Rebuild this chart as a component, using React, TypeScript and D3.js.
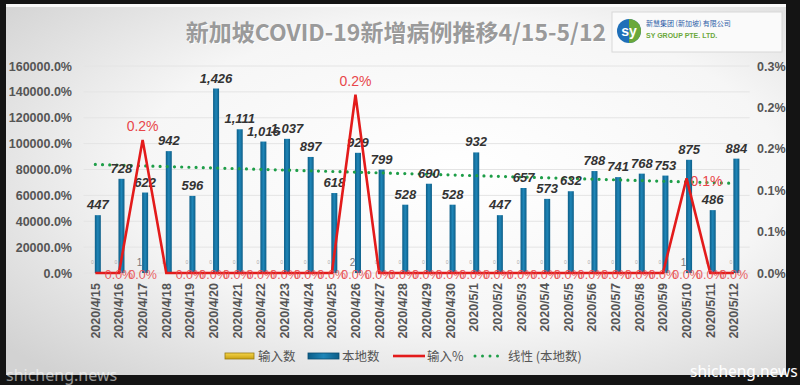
import React from 'react';
import * as d3 from 'd3';

const dates = [
  '2020/4/15', '2020/4/16', '2020/4/17', '2020/4/18', '2020/4/19', '2020/4/20', '2020/4/21',
  '2020/4/22', '2020/4/23', '2020/4/24', '2020/4/25', '2020/4/26', '2020/4/27', '2020/4/28',
  '2020/4/29', '2020/4/30', '2020/5/1', '2020/5/2', '2020/5/3', '2020/5/4', '2020/5/5',
  '2020/5/6', '2020/5/7', '2020/5/8', '2020/5/9', '2020/5/10', '2020/5/11', '2020/5/12',
];

// 本地数
const localCases = [
  447, 728, 622, 942, 596, 1426, 1111, 1016, 1037, 897, 618, 929, 799, 528,
  690, 528, 932, 447, 657, 573, 632, 788, 741, 768, 753, 875, 486, 884,
];

// 输入数
const importedCases = [
  0, 0, 1, 0, 0, 0, 0, 0, 0, 0, 0, 2, 0, 0,
  0, 0, 0, 0, 0, 0, 0, 0, 0, 0, 0, 1, 0, 0,
];

const leftTicks = [0, 200, 400, 600, 800, 1000, 1200, 1400, 1600];
const rightTicks = [0, 0.0005, 0.001, 0.0015, 0.002, 0.0025];

const legendItems = ['输入数', '本地数', '输入%', '线性 (本地数)'];

const W = 800;
const H = 385;
const plot = { left: 83.5, right: 745.7, top: 66, bottom: 273 };
const numFont = '"Liberation Sans", Arial, sans-serif';
const cjkFont = '"Noto Sans CJK SC", "Noto Sans", sans-serif';

export default function App() {
  const x = d3.scaleBand<string>().domain(dates).range([plot.left, plot.right]).padding(0);
  const cx = (d: string) => (x(d) as number) + x.bandwidth() / 2;
  const yL = d3.scaleLinear().domain([0, 1600]).range([plot.bottom, plot.top]);
  const yR = d3.scaleLinear().domain([0, 0.0025]).range([plot.bottom, plot.top]);

  const pct = dates.map((_, i) => importedCases[i] / localCases[i]);

  // linear trend of local cases (like Excel's linear trendline)
  const idx = localCases.map((_, i) => i);
  const mx = d3.mean(idx) as number;
  const my = d3.mean(localCases) as number;
  const slope =
    d3.sum(idx, (i) => (i - mx) * (localCases[i] - my)) / d3.sum(idx, (i) => (i - mx) ** 2);
  const trend = idx.map((i) => my + slope * (i - mx));

  const lineGen = d3
    .line<number>()
    .x((_, i) => cx(dates[i]))
    .y((v) => yR(v));
  const trendGen = d3
    .line<number>()
    .x((_, i) => cx(dates[i]))
    .y((v) => yL(v));

  const fmtCount = d3.format(',');
  const fmtLeft = (v: number) => (v * 100).toFixed(1) + '%';
  const fmtPct = (v: number) => (v * 100).toFixed(1) + '%';
  const fmtRight = (v: number) => (Math.round(v * 1000 + 1e-9) / 10).toFixed(1) + '%';

  const barW = 6;
  const rightLabel = new Set(['2020/5/10']);
  const noZeroLabel = new Set(['2020/4/15', '2020/4/18']);

  return (
    <div style={{ position: 'fixed', left: 0, top: 0, width: W, height: H }}>
      <svg width={W} height={H} style={{ display: 'block' }}>
        <defs>
          <radialGradient id="bg" cx="58%" cy="45%" r="75%">
            <stop offset="0%" stopColor="#ffffff" />
            <stop offset="55%" stopColor="#f6f6f6" />
            <stop offset="100%" stopColor="#d2d2d2" />
          </radialGradient>
          <linearGradient id="blueBar" x1="0" x2="1">
            <stop offset="0%" stopColor="#0d5e88" />
            <stop offset="50%" stopColor="#1f86b8" />
            <stop offset="100%" stopColor="#0d5e88" />
          </linearGradient>
          <linearGradient id="yellowBar" x1="0" y1="0" x2="0" y2="1">
            <stop offset="0%" stopColor="#f6d54a" />
            <stop offset="100%" stopColor="#c9a010" />
          </linearGradient>
        </defs>

        {/* frame */}
        <rect x={0} y={0} width={W} height={H} fill="#141414" />
        <rect x={6} y={4} width={780} height={371} fill="url(#bg)" />
        <rect x={6} y={4} width={780} height={3} fill="#ffffff" opacity={0.8} />

        {/* title */}
        <text
          x={397}
          y={42}
          textAnchor="middle"
          fontFamily={cjkFont}
          fontWeight={700}
          fontSize={23}
          fill="#ffffff"
          opacity={0.9}
        >
          新加坡COVID-19新增病例推移4/15-5/12
        </text>
        <text
          x={396}
          y={41}
          textAnchor="middle"
          fontFamily={cjkFont}
          fontWeight={700}
          fontSize={23}
          fill="#9a9a9a"
        >
          新加坡COVID-19新增病例推移4/15-5/12
        </text>

        {/* logo */}
        <g>
          <rect x={612} y={12} width={170} height={40} fill="#fafafa" stroke="#d8d8d8" />
          <circle cx={629} cy={31} r={12} fill="#1f6fb8" />
          <path d="M629,19 A12,12 0 0,1 629,43 Z" fill="#6aa83a" />
          <text x={629} y={36} textAnchor="middle" fontFamily={numFont} fontWeight={700} fontSize={14} fill="#fff">
            sy
          </text>
          <text x={646} y={26} fontFamily={cjkFont} fontSize={7} fill="#2f5fa8">
            新慧集团 (新加坡) 有限公司
          </text>
          <text x={646} y={38} fontFamily={numFont} fontWeight={700} fontSize={7} fill="#6aa83a">
            SY GROUP PTE. LTD.
          </text>
        </g>

        {/* gridlines */}
        {leftTicks.map((t) => (
          <line
            key={'g' + t}
            x1={plot.left}
            x2={plot.right + 4}
            y1={yL(t)}
            y2={yL(t)}
            stroke="#e4e4e4"
            strokeWidth={1}
          />
        ))}

        {/* left axis */}
        {leftTicks.map((t) => (
          <text
            key={'l' + t}
            x={72}
            y={yL(t) + 4.5}
            textAnchor="end"
            fontFamily={numFont}
            fontWeight={700}
            fontSize={12.5}
            fill="#555"
          >
            {fmtLeft(t)}
          </text>
        ))}

        {/* right axis */}
        {rightTicks.map((t) => (
          <text
            key={'r' + t}
            x={757}
            y={yR(t) + 4.5}
            fontFamily={numFont}
            fontWeight={700}
            fontSize={12.5}
            fill="#555"
          >
            {fmtRight(t)}
          </text>
        ))}

        {/* bars */}
        {dates.map((d, i) => (
          <g key={'b' + d}>
            <rect
              x={cx(d) - 3 - barW / 2}
              y={yL(importedCases[i])}
              width={barW}
              height={yL(0) - yL(importedCases[i])}
              fill="url(#yellowBar)"
            />
            <rect
              x={cx(d) + 2.5 - barW / 2}
              y={yL(localCases[i])}
              width={barW}
              height={yL(0) - yL(localCases[i])}
              fill="url(#blueBar)"
            />
          </g>
        ))}

        {/* imported count labels */}
        {dates.map((d, i) =>
          importedCases[i] > 0 ? (
            <text
              key={'ic' + d}
              x={cx(d) - 3}
              y={yL(importedCases[i]) - 7}
              textAnchor="middle"
              fontFamily={numFont}
              fontSize={10}
              fill="#777"
            >
              {importedCases[i]}
            </text>
          ) : (
            <text
              key={'ic' + d}
              x={cx(d) - 3}
              y={yL(importedCases[i]) - 9}
              textAnchor="middle"
              fontFamily={numFont}
              fontSize={5}
              fill="#aaa"
            >
              {importedCases[i]}
            </text>
          )
        )}

        {/* trend line */}
        <path
          d={trendGen(trend) || ''}
          fill="none"
          stroke="#1e9e48"
          strokeWidth={3.2}
          strokeLinecap="round"
          strokeDasharray="0 7.2"
        />

        {/* local count labels */}
        {dates.map((d, i) => (
          <text
            key={'lc' + d}
            x={cx(d) + 2.5}
            y={yL(localCases[i]) - 6}
            textAnchor="middle"
            fontFamily={numFont}
            fontWeight={700}
            fontStyle="italic"
            fontSize={13}
            fill="#333"
          >
            {fmtCount(localCases[i])}
          </text>
        ))}

        {/* input % line */}
        <path
          d={lineGen(pct) || ''}
          fill="none"
          stroke="#e31b1b"
          strokeWidth={2.6}
          strokeLinejoin="miter"
        />

        {/* input % labels */}
        {dates.map((d) =>
          noZeroLabel.has(d) ? null : (
            <text
              key={'z' + d}
              x={cx(d)}
              y={plot.bottom + 6}
              textAnchor="middle"
              fontFamily={numFont}
              fontSize={12.5}
              fill="#e8464a"
              opacity={0.85}
            >
              {fmtPct(0)}
            </text>
          )
        )}
        {dates.map((d, i) =>
          pct[i] > 0 ? (
            <text
              key={'p' + d}
              x={rightLabel.has(d) ? cx(d) + 4 : cx(d)}
              y={rightLabel.has(d) ? yR(pct[i]) + 8 : yR(pct[i]) - 9}
              textAnchor={rightLabel.has(d) ? 'start' : 'middle'}
              fontFamily={numFont}
              fontSize={14}
              fill="#e8464a"
            >
              {fmtPct(pct[i])}
            </text>
          ) : null
        )}

        {/* x axis labels */}
        {dates.map((d) => (
          <text
            key={'x' + d}
            transform={`translate(${cx(d) + 4.5},${plot.bottom + 10}) rotate(-90)`}
            textAnchor="end"
            fontFamily={numFont}
            fontWeight={700}
            fontSize={12.5}
            fill="#555"
          >
            {d}
          </text>
        ))}

        {/* legend */}
        <g fontFamily={cjkFont} fontSize={12.5} fill="#555">
          <rect x={225} y={353} width={29} height={6} fill="url(#yellowBar)" stroke="#9a7a10" strokeWidth={0.8} />
          <text x={258} y={361}>{legendItems[0]}</text>
          <rect x={308} y={353} width={31} height={6} fill="url(#blueBar)" stroke="#0b4e72" strokeWidth={0.8} />
          <text x={342} y={361}>{legendItems[1]}</text>
          <line x1={393} x2={425} y1={356} y2={356} stroke="#e31b1b" strokeWidth={2.6} />
          <text x={427} y={361}>{legendItems[2]}</text>
          <line
            x1={475}
            x2={500}
            y1={356}
            y2={356}
            stroke="#1e9e48"
            strokeWidth={3}
            strokeLinecap="round"
            strokeDasharray="0 7.5"
          />
          <text x={508} y={361}>{legendItems[3]}</text>
        </g>

        {/* watermarks */}
        <text x={6} y={381} fontFamily={'"Noto Sans", sans-serif'} fontSize={16} fill="#ffffff" opacity={0.55}>
          shicheng.news
        </text>
        <text x={690} y={377} fontFamily={'"Noto Sans", sans-serif'} fontSize={15.5} fill="#ffffff">
          shicheng.news
        </text>
      </svg>
    </div>
  );
}
